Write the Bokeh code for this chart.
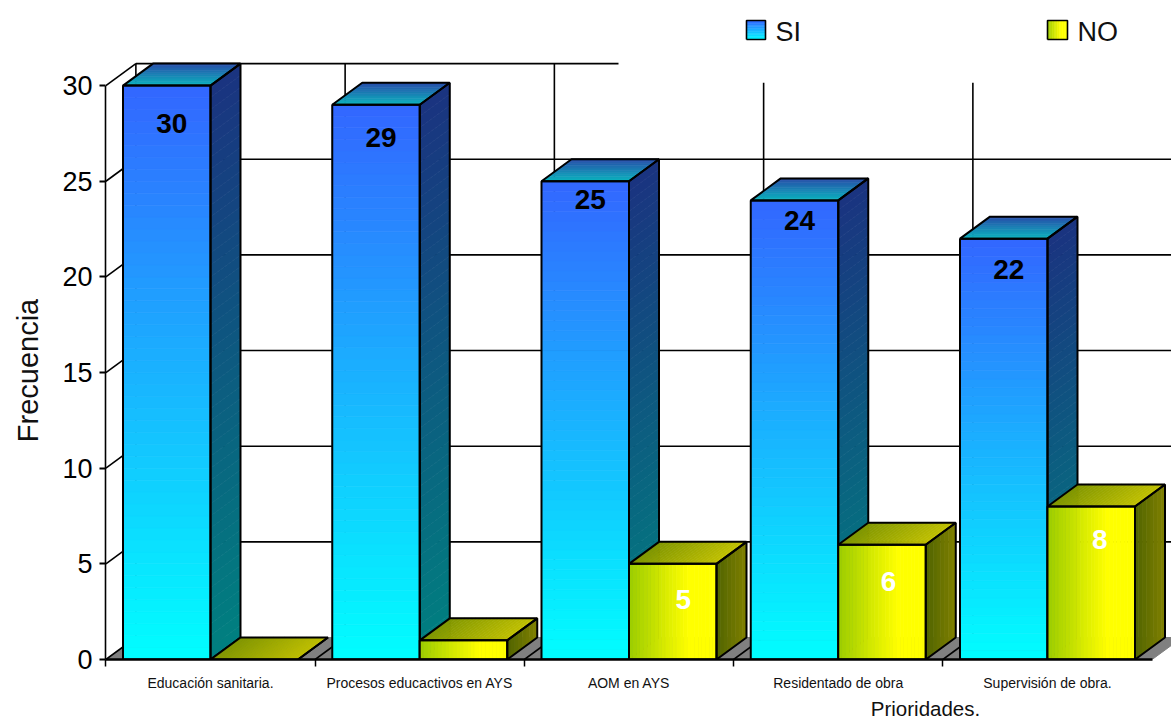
from bokeh.plotting import figure
from bokeh.models import FixedTicker, Label, Range1d
from bokeh.core.properties import value
from bokeh.embed import file_html
from bokeh.resources import INLINE

# ---- chart data ----
categories = ["Educación sanitaria.", "Procesos educactivos en AYS", "AOM en AYS",
              "Residentado de obra", "Supervisión de obra."]
si_values = [30, 29, 25, 24, 22]
no_values = [0, 1, 5, 6, 8]
y_ticks = [0, 5, 10, 15, 20, 25, 30]
series_names = ["SI", "NO"]
x_title = "Prioridades."
y_title = "Frecuencia"

# ---- layout: page pixels of the reference ----
W, H = 1171, 720
FRAME_L, FRAME_B = 105, 659
PX_X = 209.25      # pixels per category
PX_Y = 19.13       # pixels per unit of frequency
X0 = 210           # page x of first category centre
DX = 30 / PX_X     # 3-D depth
DY = 22 / PX_Y
BAR_W = 87.5 / PX_X
FONT = "Liberation Sans"

def ux(px):
    return (px - X0) / PX_X

def uy(py):
    return (FRAME_B - py) / PX_Y

def lerp(c1, c2, t):
    return "#%02x%02x%02x" % tuple(round(a + (b - a) * t) for a, b in zip(c1, c2))

p = figure(width=W, height=H, output_backend="svg", toolbar_location=None,
           x_range=Range1d(ux(FRAME_L), ux(W)),
           y_range=Range1d(0, uy(0)),
           min_border_left=FRAME_L, min_border_bottom=H - FRAME_B,
           min_border_top=0, min_border_right=0)
p.outline_line_color = None
p.background_fill_color = "white"
p.border_fill_color = "white"
p.xgrid.visible = False
p.ygrid.visible = False

# ---- axes ----
n = len(categories)
yax = p.yaxis[0]
yax.ticker = FixedTicker(ticks=y_ticks)
yax.bounds = (0, max(y_ticks))
yax.major_tick_in = 0
yax.major_tick_out = 6
yax.minor_tick_out = 0
yax.minor_tick_in = 0
yax.major_tick_line_width = 2
yax.axis_line_width = 1.6
yax.major_label_standoff = 7
yax.major_label_text_font = FONT
yax.major_label_text_font_size = "27px"
yax.major_label_text_color = "black"

xax = p.xaxis[0]
xax.ticker = FixedTicker(ticks=list(range(n)), minor_ticks=[i - 0.5 for i in range(n)])
xax.major_label_overrides = {i: c for i, c in enumerate(categories)}
xax.bounds = (-0.5, n - 0.5)
xax.major_tick_in = 0
xax.major_tick_out = 0
xax.minor_tick_in = 0
xax.minor_tick_out = 7
xax.minor_tick_line_color = "black"
xax.minor_tick_line_width = 1.5
xax.axis_line_width = 2.5
xax.major_label_standoff = 8
xax.major_label_text_font = FONT
xax.major_label_text_font_size = "14px"
xax.major_label_text_color = "#111111"

# ---- walls and floor ----
x_back_left = -0.5 + DX
x_back_right = n - 0.5 + DX
p.patch([-0.5, n - 0.5, x_back_right, x_back_left], [0, 0, DY, DY],
        fill_color="#808080", line_color="#808080")

wall_x, wall_y = [], []
for t in y_ticks[1:]:
    wall_x.append([-0.5, x_back_left])
    wall_y.append([t, t + DY])
    wall_x.append([x_back_left, ux(618) if t == max(y_ticks) else x_back_right + 1])
    wall_y.append([t + DY, t + DY])
for i in range(n):
    top = max(y_ticks) if i < 3 else 29
    wall_x.append([i - 0.5 + DX, i - 0.5 + DX])
    wall_y.append([DY, top + DY])
    wall_x.append([i - 0.5, i - 0.5 + DX])
    wall_y.append([0, DY])
p.multi_line(wall_x, wall_y, line_color="black", line_width=1.6)

# ---- bars ----
STEPS_V, STEPS_H = 48, 24
BLUE, CYAN = (51, 102, 255), (0, 255, 255)
SIDE_T, SIDE_B = (26, 51, 128), (0, 128, 128)
TOP_FRONT, TOP_BACK = (10, 182, 190), (40, 78, 170)
GREEN, YEL = (156, 204, 0), (255, 255, 0)
NSIDE_L, NSIDE_R = (80, 100, 0), (128, 128, 0)
NTOP_L, NTOP_R = (128, 150, 0), (192, 192, 0)

xs, ys, cols = [], [], []
out_x, out_y = [], []

def add(poly_x, poly_y, col):
    xs.append(poly_x)
    ys.append(poly_y)
    cols.append(col)

def ease(t):
    return min(1.0, t / 0.68)

def outline(poly_x, poly_y):
    out_x.append(list(poly_x) + [poly_x[0]])
    out_y.append(list(poly_y) + [poly_y[0]])

for i in range(n):
    x0, x1, v = i - BAR_W, i, si_values[i]
    for k in range(STEPS_V):
        a, b = v * k / STEPS_V, v * (k + 1) / STEPS_V
        t = (k + 0.5) / STEPS_V
        add([x0, x1, x1, x0], [a, a, b, b], lerp(CYAN, BLUE, t))
        add([x1, x1 + DX, x1 + DX, x1], [a, a + DY, b + DY, b], lerp(SIDE_B, SIDE_T, t))
    for k in range(10):
        a, b = k / 10, (k + 1) / 10
        t = (k + 0.5) / 10
        add([x0 + DX * a, x1 + DX * a, x1 + DX * b, x0 + DX * b],
            [v + DY * a, v + DY * a, v + DY * b, v + DY * b], lerp(TOP_FRONT, TOP_BACK, t))
    outline([x0, x1, x1, x0], [0, 0, v, v])
    outline([x1, x1 + DX, x1 + DX, x1], [0, DY, v + DY, v])
    outline([x0, x1, x1 + DX, x0 + DX], [v, v, v + DY, v + DY])

p.patches(xs, ys, fill_color=cols, line_color=cols, line_width=0.7)
p.multi_line(out_x, out_y, line_color="black", line_width=2)

xs, ys, cols, out_x, out_y = [], [], [], [], []
for i in range(n):
    x0, x1, v = i, i + BAR_W, no_values[i]
    for k in range(STEPS_H):
        a, b = k / STEPS_H, (k + 1) / STEPS_H
        t = (k + 0.5) / STEPS_H
        xa, xb = x0 + (x1 - x0) * a, x0 + (x1 - x0) * b
        if v > 0:
            add([xa, xb, xb, xa], [0, 0, v, v], lerp(GREEN, YEL, ease(t)))
        add([xa, xb, xb + DX, xa + DX], [v, v, v + DY, v + DY], lerp(NTOP_L, NTOP_R, t))
    for k in range(8):
        a, b = k / 8, (k + 1) / 8
        t = (k + 0.5) / 8
        add([x1 + DX * a, x1 + DX * b, x1 + DX * b, x1 + DX * a],
            [DY * a, DY * b, v + DY * b, v + DY * a], lerp(NSIDE_L, NSIDE_R, t))
    if v > 0:
        outline([x0, x1, x1, x0], [0, 0, v, v])
    outline([x1, x1 + DX, x1 + DX, x1], [0, DY, v + DY, v])
    outline([x0, x1, x1 + DX, x0 + DX], [v, v, v + DY, v + DY])

p.patches(xs, ys, fill_color=cols, line_color=cols, line_width=0.7)
p.multi_line(out_x, out_y, line_color="black", line_width=2)

# ---- value labels ----
SI_DROP = [1.99, 1.73, 0.95, 1.05, 1.60]      # distance of each label below its bar top
NO_DROP = [None, None, 1.85, 1.92, 1.73]
NO_SHIFT = [None, None, 0.26, 0.24, 0.25]
si_lx = [i - 0.19 + 0.005 for i in range(n)]
si_ly = [v - d for v, d in zip(si_values, SI_DROP)]
p.text(si_lx, si_ly, text=[str(v) for v in si_values], text_font=value(FONT),
       text_font_style="bold", text_font_size="28px", text_color="black",
       text_align="center", text_baseline="middle")
idx = [i for i in range(n) if no_values[i] >= 5]
p.text([i + NO_SHIFT[i] for i in idx], [no_values[i] - NO_DROP[i] for i in idx],
       text=[str(no_values[i]) for i in idx], text_font=value(FONT),
       text_font_style="bold", text_font_size="28px", text_color="white",
       text_align="center", text_baseline="middle")

# ---- legend ----
lx, ly, lc = [], [], []
for k in range(12):
    a, b = k / 12, (k + 1) / 12
    t = (k + 0.5) / 12
    lx.append([ux(746), ux(765), ux(765), ux(746)])
    ly.append([uy(39) + (uy(20) - uy(39)) * a] * 2 + [uy(39) + (uy(20) - uy(39)) * b] * 2)
    lc.append(lerp(CYAN, BLUE, t))
    xa, xb = 1047 + 20 * a, 1047 + 20 * b
    lx.append([ux(xa), ux(xb), ux(xb), ux(xa)])
    ly.append([uy(39), uy(39), uy(20), uy(20)])
    lc.append(lerp(GREEN, YEL, ease(t)))
p.patches(lx, ly, fill_color=lc, line_color=lc, line_width=0.5)
p.multi_line([[ux(746), ux(765), ux(765), ux(746), ux(746)], [ux(1047), ux(1067), ux(1067), ux(1047), ux(1047)]],
             [[uy(39), uy(39), uy(20), uy(20), uy(39)]] * 2, line_color="black", line_width=1.6)
for name, px in zip(series_names, (775, 1077)):
    p.add_layout(Label(x=ux(px), y=uy(31), text=name, text_font=FONT, text_font_size="27px",
                       text_color="#111111", text_align="left", text_baseline="middle"))

# ---- axis titles (in the side panels, which are not clipped to the frame) ----
p.add_layout(Label(x=ux(925), y=uy(708), text=x_title, text_font=FONT, text_font_size="20.5px",
                   text_color="#111111", text_align="center", text_baseline="middle"), "below")
p.add_layout(Label(x=ux(27), y=uy(370), text=y_title, text_font=FONT, text_font_size="29px",
                   text_color="#111111", text_align="center", text_baseline="middle",
                   angle=90, angle_units="deg"), "left")

open("out.html", "w").write(file_html(p, INLINE))
